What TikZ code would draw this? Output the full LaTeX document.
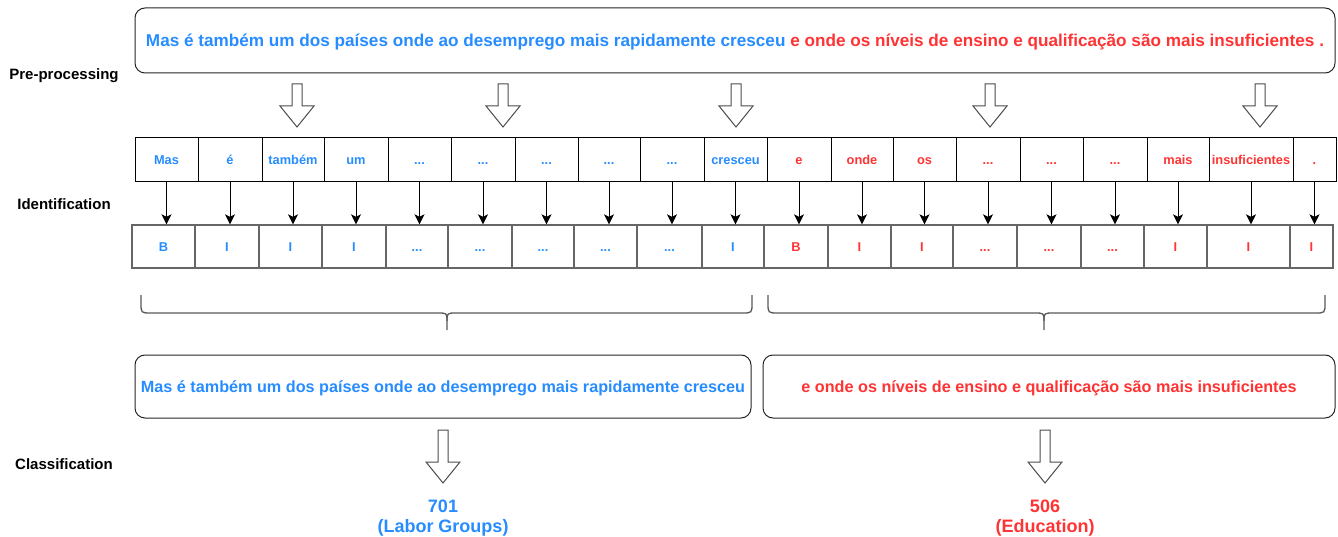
\documentclass[tikz,border=0pt]{standalone}
\usepackage{fontspec}
\setmainfont{Liberation Sans}
\usetikzlibrary{arrows.meta}
\definecolor{cb}{RGB}{38,140,255}
\definecolor{cr}{RGB}{255,51,51}
\newcommand\tdots{...}

\begin{document}
\begin{tikzpicture}[x=1pt,y=-1pt,
  stagelbl/.style={font=\bfseries\fontsize{15}{18}\selectfont, anchor=base, inner sep=0pt},
  sentbox/.style={draw=black!85, line width=1pt, rounded corners=10pt, inner sep=0pt, text depth=0pt},
  tokcell/.style={draw=black, line width=1pt, minimum height=44pt, inner sep=0pt,
    font=\bfseries\fontsize{12.8}{15}\selectfont, text height=9.2pt, text depth=0pt},
  tagcell/.style={draw=black!60, line width=1.4pt, minimum height=43pt, inner sep=0pt,
    font=\bfseries\fontsize{12.8}{15}\selectfont, text height=9.2pt, text depth=0pt},
  tokarrow/.style={draw=black, line width=1pt, -{Stealth[length=10pt,width=10pt,inset=2.5pt]}},
  hollow/.style={draw=black!70, line width=1pt, fill=white, line join=miter},
  brace/.style={draw=black!65, line width=1.3pt},
  classlbl/.style={font=\bfseries\fontsize{18}{20}\selectfont, anchor=base, inner sep=0pt},
  pics/downarrow/.style={code={
    \path[hollow] (-5,0) -- (5,0) -- (5,#1-21) -- (17,#1-21) -- (0,#1)
      -- (-17,#1-21) -- (-5,#1-21) -- cycle;}},
]
\useasboundingbox (0,0) rectangle (1338,537);

% stage labels
\node[stagelbl] (lpre) at (64,79.5) {Pre-processing};
\node[stagelbl] (lid) at (64,209.5) {Identification};
\node[stagelbl] (lcls) at (64,469.5) {Classification};

% input sentence
\node[sentbox, minimum width=1200pt, minimum height=65pt, text height=12.3pt,
  font=\bfseries\fontsize{17.15}{20}\selectfont] (sent) at (735,40.5)
  {\color{cb}Mas é também um dos países onde ao desemprego mais rapidamente cresceu
   \color{cr}e onde os níveis de ensino e qualificação são mais insuficientes .};

% hollow arrows below the sentence
\foreach \ax in {297,503,736,990,1260}
  \pic at (\ax,84) {downarrow=43};

% tokens
\foreach \i/\l/\r/\txt/\c in {
  1/135/198/Mas/cb, 2/198/262/é/cb, 3/262/324/também/cb, 4/324/388/um/cb,
  5/388/451/\tdots/cb, 6/451/515/\tdots/cb, 7/515/578/\tdots/cb, 8/578/640/\tdots/cb,
  9/640/704/\tdots/cb, 10/704/767/cresceu/cb,
  11/767/831/e/cr, 12/831/893/onde/cr, 13/893/956/os/cr, 14/956/1020/\tdots/cr,
  15/1020/1083/\tdots/cr, 16/1083/1147/\tdots/cr, 17/1147/1209/mais/cr,
  18/1209/1293/insuficientes/cr, 19/1293/1336/./cr}{
  \pgfmathsetmacro\w{\r-\l}
  \pgfmathsetmacro\cx{(\l+\r)/2}
  \node[tokcell, minimum width=\w pt, text=\c] (t\i) at (\cx,160) {\txt};
}

% BIO tags
\foreach \i/\l/\r/\txt/\c in {
  1/132/195/B/cb, 2/195/259/I/cb, 3/259/322/I/cb, 4/322/386/I/cb,
  5/386/448/\tdots/cb, 6/448/512/\tdots/cb, 7/512/574/\tdots/cb, 8/574/637/\tdots/cb,
  9/637/702/\tdots/cb, 10/702/764/I/cb,
  11/764/828/B/cr, 12/828/891/I/cr, 13/891/953/I/cr, 14/953/1017/\tdots/cr,
  15/1017/1081/\tdots/cr, 16/1081/1144/\tdots/cr, 17/1144/1207/I/cr,
  18/1207/1290/I/cr, 19/1290/1333/I/cr}{
  \pgfmathsetmacro\w{\r-\l}
  \pgfmathsetmacro\cx{(\l+\r)/2}
  \node[tagcell, minimum width=\w pt, text=\c] (b\i) at (\cx,246.5) {\txt};
}

% token -> tag arrows
\foreach \i in {1,...,19}
  \draw[tokarrow] (t\i.south) -- (t\i.south |- b\i.north);

% braces grouping the two segments
\draw[brace] (141,295) -- (141,303) .. controls (141,313) .. (151,313) -- (437,313)
  .. controls (447,313) .. (447,321) -- (447,330);
\draw[brace] (447,321) .. controls (447,313) .. (457,313) -- (742,313)
  .. controls (752,313) .. (752,303) -- (752,295);
\draw[brace] (768,295) -- (768,303) .. controls (768,313) .. (778,313) -- (1034,313)
  .. controls (1044,313) .. (1044,321) -- (1044,330);
\draw[brace] (1044,321) .. controls (1044,313) .. (1054,313) -- (1315,313)
  .. controls (1325,313) .. (1325,303) -- (1325,295);

% segments
\node[sentbox, minimum width=616pt, minimum height=63pt, text height=11.6pt,
  font=\bfseries\fontsize{16.2}{19}\selectfont, text=cb] (segA) at (443,386.5)
  {Mas é também um dos países onde ao desemprego mais rapidamente cresceu};
\node[sentbox, minimum width=572pt, minimum height=63pt, text height=11.6pt,
  font=\bfseries\fontsize{16.2}{19}\selectfont, text=cr] (segB) at (1049,386.5)
  {e onde os níveis de ensino e qualificação são mais insuficientes};

% classification arrows and results
\pic at (443,430) {downarrow=53};
\pic at (1045,430) {downarrow=53};
\node[classlbl, text=cb] (codeA) at (443,512.5) {701};
\node[classlbl, text=cb] (nameA) at (443,532) {(Labor Groups)};
\node[classlbl, text=cr] (codeB) at (1045,512.5) {506};
\node[classlbl, text=cr] (nameB) at (1045,532) {(Education)};
\end{tikzpicture}
\end{document}
